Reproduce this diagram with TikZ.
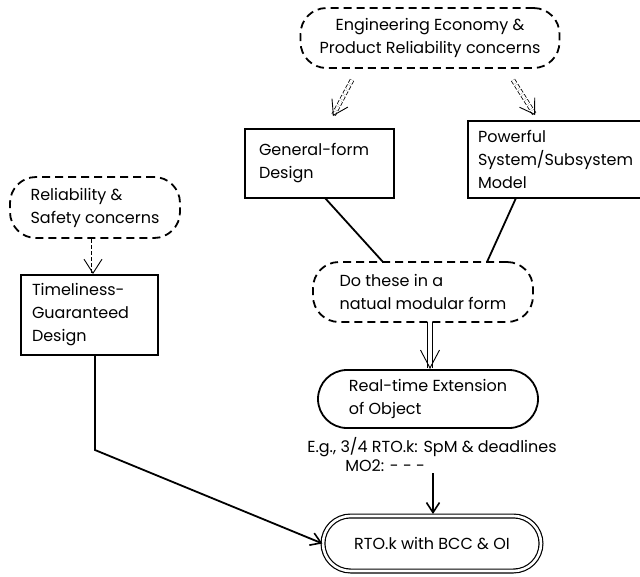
\documentclass[tikz,border=0pt]{standalone}
\usepackage{fontspec}
\setmainfont{Poppins}
\usetikzlibrary{arrows.meta,shapes.misc}
\begin{document}
\begin{tikzpicture}[x=1pt,y=-1pt,
  every node/.style={font=\fontsize{16}{23}\selectfont, align=left, inner sep=0pt},
  dbox/.style={draw, line width=1.8pt, dash pattern=on 8pt off 5pt, rounded corners=26pt},
  sbox/.style={draw, line width=1.8pt},
  rbox/.style={draw, line width=1.8pt, rounded rectangle},
  ddarrow/.style={draw, double, double distance=3pt, dash pattern=on 4pt off 2pt, line width=0.8pt, -{Straight Barb[length=14pt,width=18pt,line width=0.9pt]}},
  sdarrow/.style={draw, double, double distance=3.5pt, line width=0.9pt, -{Straight Barb[length=18pt,width=19pt,line width=0.9pt]}},
  conn/.style={draw, line width=1.8pt},
  tip/.style={-{Straight Barb[length=10pt,width=13pt,line width=1.6pt]}},
]
\useasboundingbox (0,0) rectangle (640,576);
\node[dbox, align=center, minimum width=259pt, minimum height=60pt] (econ) at (430,38) {Engineering Economy \&\\Product Reliability concerns};
\node[sbox, minimum width=149pt, minimum height=69pt, text width=121pt] (gen) at (319.5,163.5) {General-form\\Design};
\node[sbox, minimum width=180pt, minimum height=77pt, text width=160pt] (pow) at (558,159.5) {Powerful\\System/Subsystem\\Model};
\node[dbox, minimum width=170pt, minimum height=61pt] (rel) at (95,207.5) {Reliability \&\\Safety concerns};
\node[sbox, minimum width=137pt, minimum height=80pt, text width=115pt] (tim) at (89.5,315) {Timeliness-\\Guaranteed\\Design};
\node[dbox, minimum width=220pt, minimum height=60pt] (do) at (423,292) {Do these in a\\natual modular form};
\node[rbox, minimum width=220pt, minimum height=58pt] (rt) at (428,399) {Real-time Extension\\of Object};
\node[font=\fontsize{16}{19}\selectfont] (eg) at (432,455) {E.g., 3/4 RTO.k: SpM \& deadlines\\\hspace*{38pt}MO2: - - -};
\node[rbox, double, double distance=2.6pt, line width=1.2pt, minimum width=218pt, minimum height=55pt] (rto) at (432,543.5) {RTO.k with BCC \& OI};
% dashed double arrows
\coordinate (e1) at (352,80);
\coordinate (g1) at (333,116);
\coordinate (e2) at (513,80);
\coordinate (p1) at (535,115);
\coordinate (r1) at (93,239);
\coordinate (t1) at (93,274);
\path[ddarrow] (e1) -- (g1);
\path[ddarrow] (e2) -- (p1);
\path[ddarrow] (r1) -- (t1);
% merging lines
\coordinate (gb) at (325,198);
\coordinate (dt1) at (383,262);
\coordinate (pb) at (516,198);
\coordinate (dt2) at (487,262);
\draw[conn] (gb) -- (dt1);
\draw[conn] (pb) -- (dt2);
% solid double arrow
\coordinate (d1) at (430,322);
\coordinate (d2) at (430,369);
\path[sdarrow] (d1) -- (d2);
% to RTO
\coordinate (a1) at (433,473);
\coordinate (a2) at (433,514);
\draw[conn, tip] (a1) -- (a2);
\coordinate (tb) at (95,355);
\coordinate (tc) at (95,450);
\draw[conn, tip] (tb) -- (tc) -- (rto.west);
\end{tikzpicture}
\end{document}
